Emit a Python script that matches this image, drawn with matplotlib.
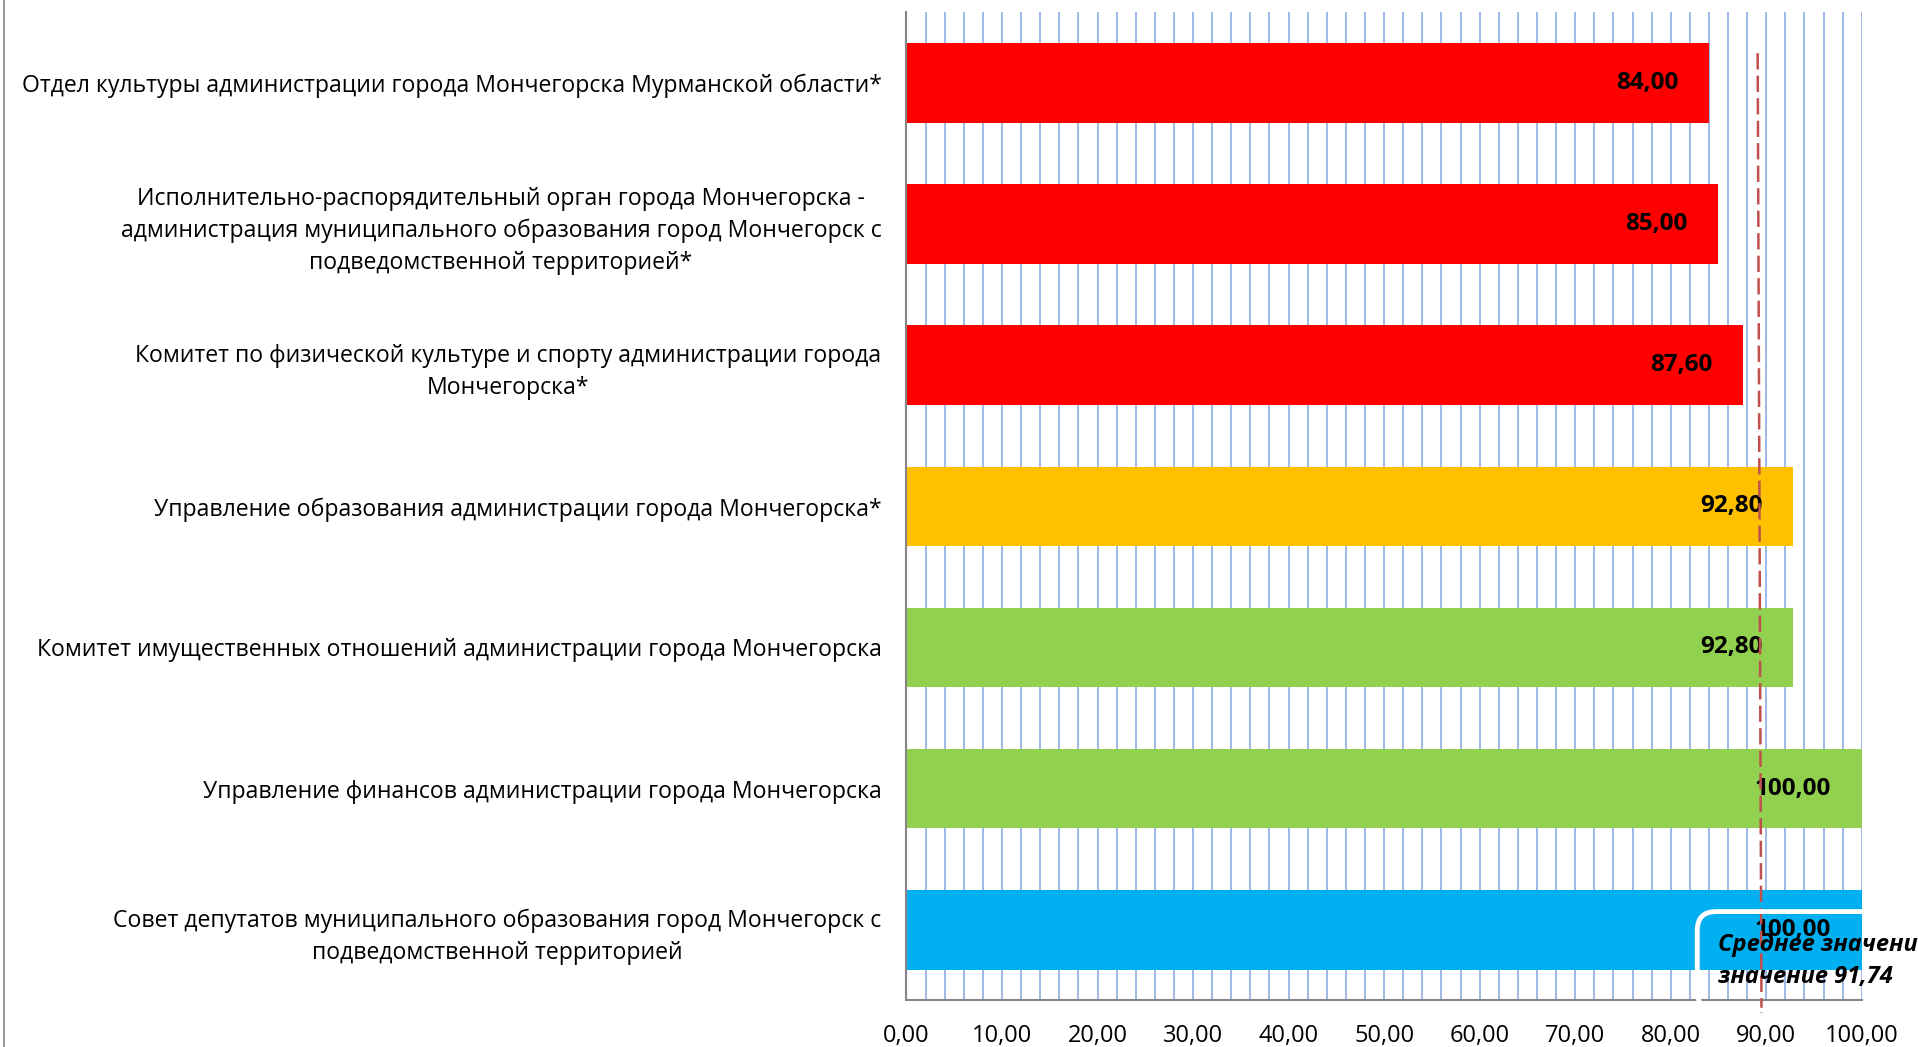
import matplotlib
matplotlib.use('Agg')
import matplotlib.pyplot as plt
from matplotlib.lines import Line2D
import numpy as np

plt.rcParams['font.family'] = ['Open Sans', 'DejaVu Sans']

# данные
categories = [
    "Отдел культуры администрации города Мончегорска Мурманской области*",
    "Исполнительно-распорядительный орган города Мончегорска -\nадминистрация муниципального образования город Мончегорск с\nподведомственной территорией*",
    "Комитет по физической культуре и спорту администрации города\nМончегорска*",
    "Управление образования администрации города Мончегорска*",
    "Комитет имущественных отношений администрации города Мончегорска",
    "Управление финансов администрации города Мончегорска",
    "Совет депутатов муниципального образования город Мончегорск с\nподведомственной территорией",
]
values = [84.00, 85.00, 87.60, 92.80, 92.80, 100.00, 100.00]
bar_colors = ['#FF0000', '#FF0000', '#FF0000', '#FFC000', '#92D050', '#92D050', '#00B0F0']
avg_value = 91.74
avg_line_x = [89.1, 89.5]   # где линия нарисована на исходной картинке
x_ticks = list(range(0, 101, 10))

fig = plt.figure(figsize=(19.18, 10.47), dpi=100)
ax = fig.add_axes([0.4726, 0.0445, 0.4981, 0.9438])

y = np.arange(len(categories))
ax.barh(y, values, height=0.563, color=bar_colors, zorder=3)

ax.set_ylim(len(categories) - 0.5, -0.5)
ax.set_xlim(0, 100)

# вертикальная сетка через 2
for gx in range(2, 101, 2):
    ax.axvline(gx, color='#9DB9E6', lw=1.4, zorder=1)

ax.set_yticks(y)
ax.set_yticklabels(categories, fontsize=16.6, multialignment='center', linespacing=1.45)
ax.set_xticks(x_ticks)
ax.set_xticklabels([f"{t:.2f}".replace('.', ',') for t in x_ticks], fontsize=17)
ax.tick_params(axis='both', length=0)
ax.tick_params(axis='y', pad=18)
ax.tick_params(axis='x', pad=17)

for s in ['top', 'right']:
    ax.spines[s].set_visible(False)
ax.spines['left'].set_color('#868686')
ax.spines['bottom'].set_color('#868686')
ax.spines['left'].set_linewidth(1.5)
ax.spines['bottom'].set_linewidth(1.5)
ax.spines['left'].set_zorder(4)

# подписи значений
for yi, v in zip(y, values):
    ax.annotate(f"{v:.2f}".replace('.', ','), xy=(v, yi), xytext=(-22, 0),
                textcoords='offset points', ha='right', va='center',
                fontsize=17.5, fontweight='bold', color='black', zorder=5)

# линия среднего значения
ax.plot(avg_line_x, [-0.21, 6.59], color='#C0504D', lw=1.8,
        dashes=(6.5, 2.5), zorder=6, clip_on=False)

ax.text(85.0, 6.22, "Среднее значение\nзначение " + f"{avg_value:.2f}".replace('.', ','),
        ha='left', va='center', fontsize=17, fontweight='bold', fontstyle='italic',
        linespacing=1.45, zorder=7, clip_on=False,
        bbox=dict(boxstyle='round,pad=0.9,rounding_size=0.8', fc='none', ec='white', lw=3.5))

# левая граница области диаграммы
fig.add_artist(Line2D([0.002, 0.002], [0, 1], color='#868686', lw=1.2))

fig.savefig('out.png', dpi=100)
